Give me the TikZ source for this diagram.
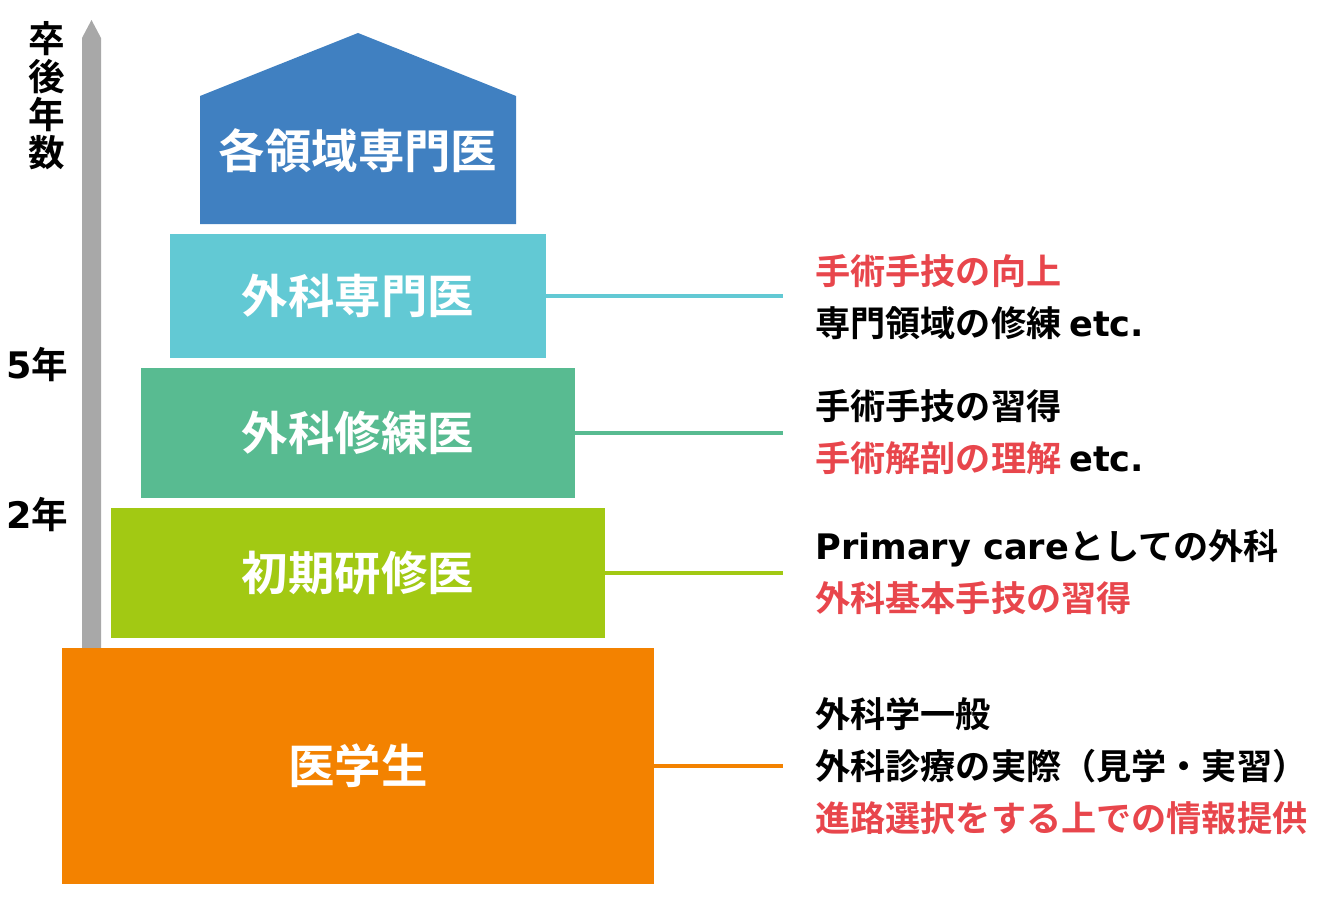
\documentclass[tikz,border=0pt]{standalone}
\usepackage{fontspec}
\setmainfont{Noto Sans CJK JP}[BoldFont={* Bold}]
\newfontfamily\latinfont{DejaVu Sans}
\usepackage{tikz}
\usetikzlibrary{positioning}

\definecolor{topblue}{HTML}{4080C1}
\definecolor{tcyan}{HTML}{62C9D4}
\definecolor{tgreen}{HTML}{58BB91}
\definecolor{tlime}{HTML}{A2C913}
\definecolor{torange}{HTML}{F38200}
\definecolor{tred}{HTML}{E8464C}
\definecolor{axisgray}{HTML}{A8A8A8}

\newcommand{\lat}[1]{{\latinfont\bfseries #1}}

\begin{document}
\begin{tikzpicture}[
    x=0.025cm, y=-0.025cm,
    tier/.style={rectangle, fill=#1, inner sep=0pt, text=white,
                 font=\bfseries\fontsize{33pt}{36pt}\selectfont},
    link/.style={line width=2.2pt, #1},
    note/.style={anchor=west, inner sep=0pt, align=left,
                 font=\bfseries\fontsize{25pt}{37pt}\selectfont},
    yearlbl/.style={inner sep=0pt, font=\bfseries\fontsize{26pt}{27pt}\selectfont},
]
\useasboundingbox (0,0) rectangle (1320,906);

% Axis
\fill[axisgray] (82,648) -- (82,38) -- (91.5,20) -- (101,38) -- (101,648) -- cycle;
\node[yearlbl, align=center] (axis) at (47,96) {卒\\後\\年\\数};
\node[yearlbl] (y5) at (37,365) {\lat{5}年};
\node[yearlbl] (y2) at (37,515) {\lat{2}年};

% Top (house)
\fill[topblue] (200,224) -- (200,96) -- (358,33) -- (516,96) -- (516,224) -- cycle;
\node[tier=topblue, fill=none] (top) at (358,151) {各領域専門医};

% Tiers
\node[tier=tcyan, minimum width=9.4cm, minimum height=3.1cm] (senmon) at (358,296) {外科専門医};
\node[tier=tgreen, minimum width=10.85cm, minimum height=3.25cm] (shuren) at (358,433) {外科修練医};
\node[tier=tlime, minimum width=12.35cm, minimum height=3.25cm] (shoki) at (358,573) {初期研修医};
\node[tier=torange, minimum width=14.8cm, minimum height=5.9cm] (gakusei) at (358,766) {医学生};

% Connector ends
\coordinate (e1) at (783,296);
\coordinate (e2) at (783,433);
\coordinate (e3) at (783,573);
\coordinate (e4) at (783,766);

\draw[link=tcyan] (senmon.east) -- (e1);
\draw[link=tgreen] (shuren.east) -- (e2);
\draw[link=tlime] (shoki.east) -- (e3);
\draw[link=torange] (gakusei.east) -- (e4);

% Notes
\node[note] (n1) at (815,297) {{\color{tred}手術手技の向上}\\専門領域の修練 \lat{etc.}};
\node[note] (n2) at (815,432) {手術手技の習得\\{\color{tred}手術解剖の理解} \lat{etc.}};
\node[note] (n3) at (815,572) {\lat{Primary care}としての外科\\{\color{tred}外科基本手技の習得}};
\node[note] (n4) at (815,766) {外科学一般\\外科診療の実際（見学・実習）\\{\color{tred}進路選択をする上での情報提供}};

\end{tikzpicture}
\end{document}
